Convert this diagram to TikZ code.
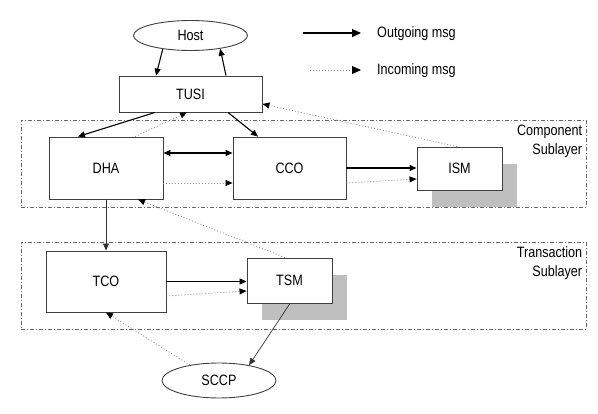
\documentclass[tikz,border=0pt]{standalone}
\usepackage{fontspec}
\setmainfont{Liberation Sans}[FakeStretch=0.84]
\usepackage{tikz}
\usetikzlibrary{arrows.meta,positioning,shapes.geometric,shadows,calc}
\newcommand{\msgfont}{\fontsize{15}{19}\selectfont}
\tikzset{
  box/.style={draw=black!75, rectangle, fill=white, line width=0.9pt, inner sep=0pt, font=\msgfont},
  shbox/.style={box, drop shadow={shadow xshift=15pt, shadow yshift=-17pt, fill=black!25, opacity=1}},
  oval/.style={draw=black!75, ellipse, fill=white, line width=0.9pt, inner sep=0pt, minimum width=114, font=\msgfont},
  layer/.style={draw=black!60, rectangle, line width=0.8pt, dash pattern=on 4pt off 2pt on 1pt off 2pt, inner sep=0pt},
  layerlabel/.style={align=right, anchor=north east, inner sep=0pt, font=\msgfont},
  legendtext/.style={anchor=west, inner sep=0pt, font=\msgfont},
  outarr/.style={-{Triangle[length=7pt,width=6pt]}, line width=1.1pt},
  thinarr/.style={-{Triangle[length=7pt,width=6pt]}, line width=0.7pt, black!80},
  incarr/.style={-{Triangle[length=7pt,width=6pt,color=black]}, draw=black!45, line width=0.8pt, dash pattern=on 1pt off 2pt}
}

\begin{document}
\begin{tikzpicture}[x=1pt,y=-1pt]
\useasboundingbox (0,0) rectangle (598,414);

% legend
\coordinate (outS) at (303,33);
\coordinate (outE) at (361,33);
\coordinate (incS) at (310,70);
\coordinate (incE) at (361,70);
\node[legendtext] (outmsg) at (377,34) {Outgoing msg};
\node[legendtext] (incmsg) at (377,71) {Incoming msg};
\draw[outarr, -{Triangle[length=9pt,width=8pt]}] (outS) -- (outE);
\draw[incarr, -{Triangle[length=9pt,width=8pt,color=black]}] (incS) -- (incE);

% sublayers
\node[layer, minimum width=565, minimum height=87] (complayer) at (303.5,163.5) {};
\node[layer, minimum width=565, minimum height=87] (translayer) at (303.5,285.5) {};
\node[layerlabel] (complbl) at ([xshift=-4pt,yshift=-5pt]complayer.north east) {Component\\Sublayer};
\node[layerlabel] (translbl) at ([xshift=-4pt,yshift=-5pt]translayer.north east) {Transaction\\Sublayer};

% blocks
\node[oval, minimum height=30] (host) at (190.5,35.5) {Host};
\node[box, minimum width=143, minimum height=36] (tusi) at (190.5,94) {TUSI};
\node[box, minimum width=114, minimum height=62] (dha) at (106,168) {DHA};
\node[box, minimum width=113, minimum height=62] (cco) at (289.5,168) {CCO};
\node[shbox, minimum width=85, minimum height=43] (ism) at (459.5,168.5) {ISM};
\node[box, minimum width=120, minimum height=61] (tco) at (106,281.5) {TCO};
\node[shbox, minimum width=85, minimum height=45] (tsm) at (289.5,280.5) {TSM};
\node[oval, minimum height=35] (sccp) at (219,380.5) {SCCP};

% outgoing
\draw[outarr] (host.-154) -- ([xshift=-34.5pt]tusi.north);
\draw[outarr] ([xshift=35.5pt]tusi.north) -- (host.-24);
\draw[outarr] ([xshift=-35.5pt]tusi.south) -- ([xshift=-28pt]dha.north);
\draw[outarr] ([xshift=37.5pt]tusi.south) -- ([xshift=-31.5pt]cco.north);
\draw[outarr, {Triangle[length=7pt,width=6pt]}-{Triangle[length=7pt,width=6pt]}] ([yshift=15pt]dha.east) -- ([yshift=15pt]cco.west);
\draw[outarr] (cco.east) -- (cco.east -| ism.west);
\draw[thinarr] (dha.south) -- (tco.north);
\draw[outarr] (tco.east) -- (tco.east -| tsm.west);
\draw[thinarr] ([xshift=0.5pt]tsm.south) -- (sccp.27.5);

% incoming
\draw[incarr] ([xshift=29pt]dha.north) -- ([xshift=-3.5pt]tusi.south);
\draw[incarr] ([yshift=-15pt]dha.east) -- ([yshift=-15pt]cco.west);
\draw[incarr] ([yshift=-15pt]cco.east) -- ([yshift=-10.5pt]ism.west);
\draw[incarr] ([xshift=-2.5pt]ism.north) -- ([yshift=-10pt]tusi.east);
\draw[incarr] ([yshift=-14.5pt]tco.east) -- ([yshift=-10.5pt]tsm.west);
\draw[incarr] ([xshift=-4.5pt]tsm.north) -- ([xshift=32pt]dha.south);
\draw[incarr] (sccp.152.5) -- (tco.south);
\end{tikzpicture}
\end{document}
